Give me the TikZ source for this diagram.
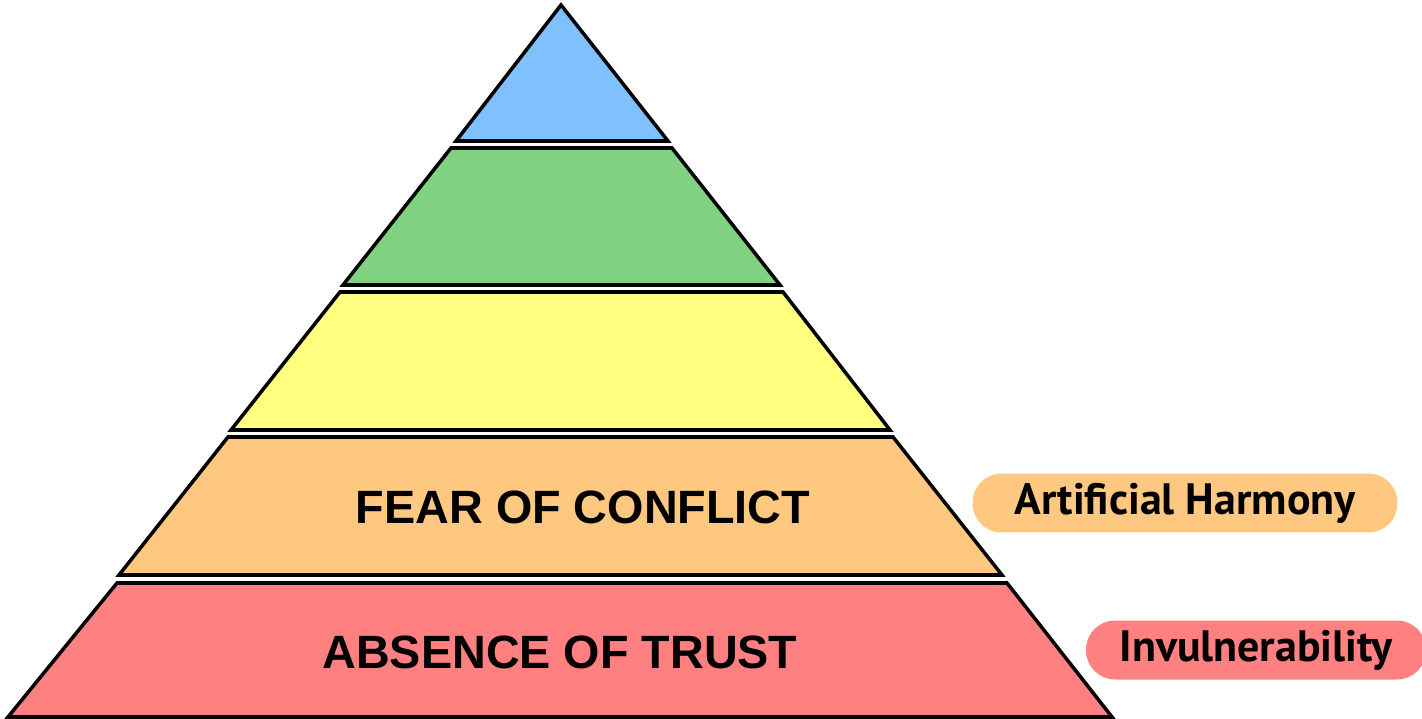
\documentclass[tikz,border=0pt]{standalone}
\usepackage{fontspec}
\setmainfont{Liberation Sans}
\newfontfamily\handfont{PT Sans}

\definecolor{topblue}{RGB}{128,192,255}
\definecolor{lvlgreen}{RGB}{128,210,128}
\definecolor{lvlyellow}{RGB}{255,255,128}
\definecolor{lvlorange}{RGB}{255,200,128}
\definecolor{lvlred}{RGB}{255,128,128}

\begin{document}
\begin{tikzpicture}[x=0.02cm, y=-0.02cm,
    layer/.style={draw=black, line width=2pt, line join=miter},
    levellabel/.style={font=\fontsize{26.6}{30}\selectfont\bfseries},
    marker/.style={rounded corners=0.58cm, minimum height=1.18cm, inner xsep=0pt,
                   font=\handfont\bfseries\fontsize{25}{30}\selectfont}]
    \useasboundingbox (0,0) rectangle (1422,719);
    % pyramid, top to bottom
    \filldraw [layer, fill=topblue] (561,5) -- (668,141) -- (456,141) -- cycle;
    \filldraw [layer, fill=lvlgreen] (451,148) -- (672,148) -- (780,285) -- (343,285) -- cycle;
    \filldraw [layer, fill=lvlyellow] (340,292) -- (783,292) -- (890,430) -- (231,430) -- cycle;
    \filldraw [layer, fill=lvlorange] (228,437) -- (893,437) -- (1002,575) -- (119,575) -- cycle;
    \filldraw [layer, fill=lvlred] (117,583) -- (1007,583) -- (1112,717) -- (8,717) -- cycle;
    % level names
    \node [levellabel] (conflict) at (583,507) {FEAR OF CONFLICT};
    \node [levellabel] (trust) at (560,652) {ABSENCE OF TRUST};
    % side notes
    \node [marker, fill=lvlorange, minimum width=8.5cm] (harmony) at (1185,503) {Artificial Harmony};
    \node [marker, fill=lvlred, minimum width=6.8cm] (invuln) at (1256,650) {Invulnerability};
\end{tikzpicture}
\end{document}
